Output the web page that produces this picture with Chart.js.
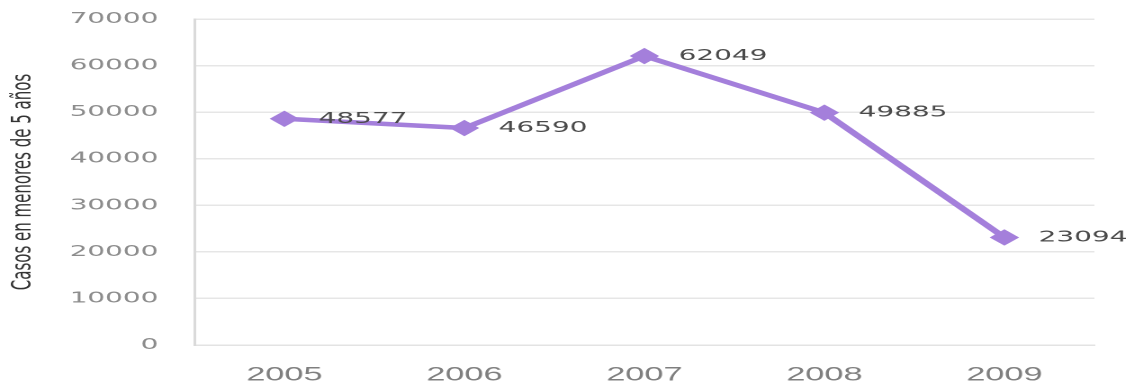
<!DOCTYPE html>
<html><head><meta charset="utf-8">
<script src="https://cdn.jsdelivr.net/npm/chart.js@4.4.1/dist/chart.umd.min.js"></script>
<style>
html,body{margin:0;padding:0;background:#fff;overflow:hidden;width:1127px;height:385px;}
#wrap{position:absolute;left:0;top:0;width:626px;height:385px;transform:scaleX(1.8);transform-origin:0 0;}
</style></head><body>
<div id="wrap"><canvas id="c" width="626" height="385"></canvas></div>
<script>
const categories = ['2005', '2006', '2007', '2008', '2009'];
const casos = [48577, 46590, 62049, 49885, 23094];
const yTickLabels = ['0', '10000', '20000', '30000', '40000', '50000', '60000', '70000'];
const yTitle = 'Casos en menores de 5 años';

const valueLabels = {
  id: 'valueLabels',
  afterDatasetsDraw(chart) {
    const ctx = chart.ctx;
    const meta = chart.getDatasetMeta(0);
    const data = chart.data.datasets[0].data;
    ctx.save();
    ctx.font = '15.5px "DejaVu Sans"';
    ctx.fillStyle = '#4a4a4a';
    ctx.textAlign = 'left';
    ctx.textBaseline = 'middle';
    meta.data.forEach((pt, i) => {
      ctx.fillText(String(data[i]), pt.x + 19, pt.y);
    });
    ctx.restore();
  }
};

new Chart(document.getElementById('c'), {
  type: 'line',
  data: {
    labels: categories,
    datasets: [{
      data: casos,
      borderColor: '#a47fdb',
      backgroundColor: '#a47fdb',
      borderWidth: 4.5,
      pointStyle: 'rectRot',
      pointRadius: 7.5,
      pointBorderWidth: 1,
      pointBackgroundColor: '#a47fdb',
      pointBorderColor: '#a47fdb',
      tension: 0,
      clip: false
    }]
  },
  options: {
    responsive: false,
    animation: false,
    devicePixelRatio: 2,
    layout: { padding: { top: 19, right: 18, left: 0, bottom: 0 } },
    plugins: { legend: { display: false }, tooltip: { enabled: false } },
    scales: {
      x: {
        type: 'category',
        offset: true,
        grid: { display: false, drawTicks: false },
        border: { display: true, color: '#e3e3e3', width: 1.5 },
        ticks: { color: '#7f7f7f', font: { family: 'Liberation Sans', size: 19 }, padding: 19, maxRotation: 0 },
        afterFit: s => { s.height = 40; }
      },
      y: {
        min: 0, max: 70000,
        ticks: {
          stepSize: 10000,
          callback: (v, i) => yTickLabels[i],
          color: '#8c8c8c',
          font: { family: 'DejaVu Sans', size: 15.5 },
          padding: 20
        },
        grid: { color: '#e6e6e6', lineWidth: 1.5, drawTicks: false },
        border: { display: true, color: '#dadada', width: 1.5 },
        title: { display: true, text: yTitle, color: '#333333', font: { family: 'DejaVu Sans', size: 15 }, padding: { top: 4, bottom: 0 } },
        afterFit: s => { s.width = 108; s.paddingTop = 0; s.paddingBottom = 0; }
      }
    }
  },
  plugins: [valueLabels]
});
</script>
</body></html>
